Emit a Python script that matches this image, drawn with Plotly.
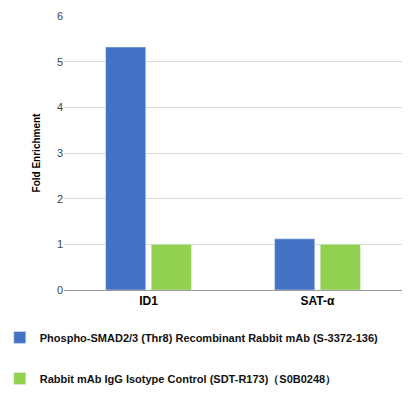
import plotly.graph_objects as go

categories = ["ID1", "SAT-α"]
smad_values = [5.32, 1.12]
igg_values = [1.0, 1.0]
smad_name = "<b>Phospho-SMAD2/3 (Thr8) Recombinant Rabbit mAb (S-3372-136)</b>"
igg_name = "<b>Rabbit mAb IgG Isotype Control (SDT-R173)（S0B0248）</b>"

fig = go.Figure()
fig.add_trace(go.Bar(x=categories, y=smad_values, name=smad_name,
                     marker_color="#4472C4", legendgroup="a"))
fig.add_trace(go.Bar(x=categories, y=igg_values, name=igg_name,
                     marker_color="#92D050", legendgroup="b"))

fig.update_layout(
    width=416, height=414,
    margin=dict(l=56, r=22, t=8, b=132, autoexpand=False),
    plot_bgcolor="white", paper_bgcolor="white",
    font=dict(family="Arial, Liberation Sans, sans-serif", size=11, color="#333"),
    barmode="group", bargap=0.46, bargroupgap=0.12,
    showlegend=True,
    legend=dict(orientation="v", x=-0.19, xanchor="left", y=-0.12, yanchor="top",
                tracegroupgap=22, font=dict(size=11, color="#111"),
                itemwidth=30),
    yaxis=dict(range=[0, 6], dtick=1, showgrid=True, gridcolor="#d9d9d9",
               zeroline=False, ticks="", tickfont=dict(size=11, color="#444"),
               title=dict(text="<b>Fold Enrichment</b>", font=dict(size=10, color="black"),
                          standoff=14)),
    xaxis=dict(showline=True, linecolor="#999", ticks="",
               tickfont=dict(size=12, color="black"),
               tickvals=categories, ticktext=["<b>%s</b>" % c for c in categories]),
)

fig.write_html("out.html")
